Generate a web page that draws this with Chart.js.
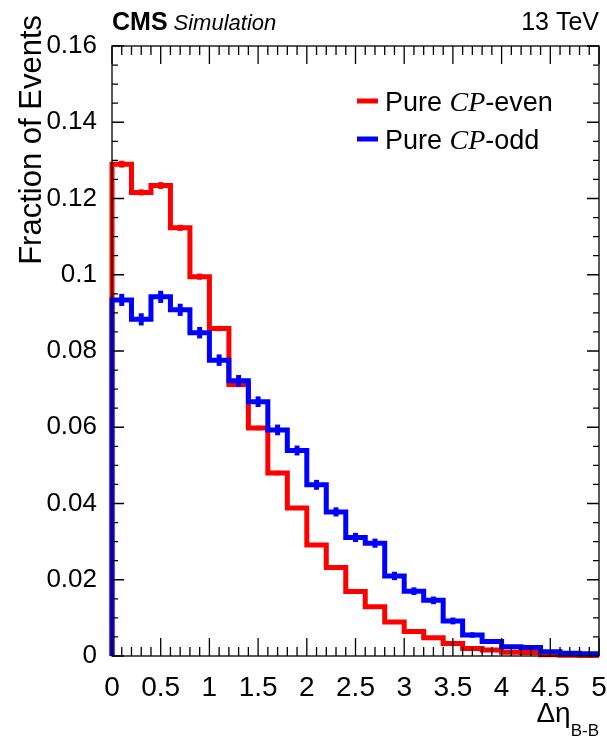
<!DOCTYPE html>
<html>
<head>
<meta charset="utf-8">
<script src="https://cdn.jsdelivr.net/npm/chart.js@4/dist/chart.umd.min.js"></script>
<style>
  html, body { margin: 0; padding: 0; background: #fff; }
  canvas { display: block; }
</style>
</head>
<body>
<canvas id="c" width="607" height="742"></canvas>
<script>
// Lower edges of the Δη bins (width 0.2), plus the upper end of the last bin
const binLow = [0.0, 0.2, 0.4, 0.6, 0.8, 1.0, 1.2, 1.4, 1.6, 1.8,
                2.0, 2.2, 2.4, 2.6, 2.8, 3.0, 3.2, 3.4, 3.6, 3.8,
                4.0, 4.2, 4.4, 4.6, 4.8];
const binEnd = 5.0;

// Fraction of events per bin, pure CP-even sample
const evenValues = [0.1290, 0.1216, 0.1234, 0.1123, 0.0995, 0.0859, 0.0712, 0.0598, 0.0480, 0.0388,
                    0.0291, 0.0232, 0.0169, 0.0129, 0.0089, 0.0064, 0.0048, 0.0033, 0.0020, 0.0016,
                    0.0010, 0.0009, 0.0003, 0.0002, 0.0001];
const evenErrors = [0.0009, 0.0008, 0.0009, 0.0008, 0.0008, 0.0007, 0.0007, 0.0006, 0.0006, 0.0005,
                    0.0005, 0.0004, 0.0004, 0.0003, 0.0003, 0.0003, 0.0002, 0.0002, 0.0002, 0.0001,
                    0.0001, 0.0001, 0.0001, 0.0001, 0.0001];

// Fraction of events per bin, pure CP-odd sample
const oddValues = [0.0934, 0.0883, 0.0942, 0.0908, 0.0848, 0.0776, 0.0722, 0.0667, 0.0593, 0.0539,
                   0.0449, 0.0378, 0.0311, 0.0296, 0.0210, 0.0170, 0.0146, 0.0092, 0.0055, 0.0038,
                   0.0024, 0.0022, 0.0011, 0.0007, 0.0006];
const oddErrors = [0.0016, 0.0016, 0.0016, 0.0016, 0.0015, 0.0015, 0.0015, 0.0014, 0.0014, 0.0013,
                   0.0013, 0.0012, 0.0012, 0.0012, 0.0011, 0.0010, 0.0010, 0.0009, 0.0007, 0.0006,
                   0.0005, 0.0005, 0.0004, 0.0003, 0.0003];

// Axis labels
const xTickValues = [0, 0.5, 1, 1.5, 2, 2.5, 3, 3.5, 4, 4.5, 5];
const yTickValues = [0, 0.02, 0.04, 0.06, 0.08, 0.1, 0.12, 0.14, 0.16];

const SANS = "'Liberation Sans', Arial, Helvetica, sans-serif";
const SERIF = "'Liberation Serif', 'Times New Roman', serif";

// Outline of a histogram as step points: rises from zero at the first edge
function stepPoints(values) {
  const pts = [{ x: binLow[0], y: 0 }];
  values.forEach((v, i) => pts.push({ x: binLow[i], y: v }));
  pts.push({ x: binEnd, y: values[values.length - 1] });
  return pts;
}

const errorsByLabel = {
  'Pure CP-odd': { values: oddValues, errors: oddErrors },
  'Pure CP-even': { values: evenValues, errors: evenErrors }
};

// Vertical statistical error bars at bin centres, drawn together with their histogram
const errorBars = {
  id: 'errorBars',
  afterDatasetDraw(chart, args) {
    const ds = chart.data.datasets[args.index];
    const info = errorsByLabel[ds.label];
    if (!info) return;
    const xs = chart.scales.x, ys = chart.scales.y, ctx = chart.ctx;
    ctx.save();
    ctx.strokeStyle = ds.borderColor;
    ctx.lineWidth = 5;
    ctx.lineCap = 'butt';
    info.values.forEach((v, i) => {
      const hi = (i + 1 < binLow.length) ? binLow[i + 1] : binEnd;
      const cx = xs.getPixelForValue((binLow[i] + hi) / 2);
      ctx.beginPath();
      ctx.moveTo(cx, ys.getPixelForValue(Math.max(0, v - info.errors[i])));
      ctx.lineTo(cx, ys.getPixelForValue(v + info.errors[i]));
      ctx.stroke();
    });
    ctx.restore();
  }
};

// Frame with inward ticks on all four sides
const frame = {
  id: 'frame',
  afterDatasetsDraw(chart) {
    const { ctx, chartArea: a, scales: { x, y } } = chart;
    ctx.save();
    ctx.strokeStyle = '#000';
    ctx.lineWidth = 1.3;
    ctx.strokeRect(a.left, a.top, a.right - a.left, a.bottom - a.top);
    ctx.beginPath();
    for (let k = 0; k <= 50; k++) {
      const px = x.getPixelForValue(k / 10);
      const len = (k % 5 === 0) ? 18 : 9;
      ctx.moveTo(px, a.bottom); ctx.lineTo(px, a.bottom - len);
      ctx.moveTo(px, a.top); ctx.lineTo(px, a.top + len);
    }
    for (let k = 0; k <= 32; k++) {
      const py = y.getPixelForValue(k * 0.005);
      const len = (k % 4 === 0) ? 12 : 6;
      ctx.moveTo(a.left, py); ctx.lineTo(a.left + len, py);
      ctx.moveTo(a.right, py); ctx.lineTo(a.right - len, py);
    }
    ctx.stroke();
    ctx.restore();
  }
};

// Header, axis titles and legend
const annotations = {
  id: 'annotations',
  afterDraw(chart) {
    const { ctx, chartArea: a } = chart;
    ctx.save();
    ctx.fillStyle = '#000';
    ctx.textBaseline = 'alphabetic';

    // header
    ctx.textAlign = 'left';
    ctx.font = `bold 25px ${SANS}`;
    ctx.fillText('CMS', a.left, 30);
    const cmsW = ctx.measureText('CMS').width;
    ctx.font = `italic 22px ${SANS}`;
    ctx.fillText('Simulation', a.left + cmsW + 6, 30);
    ctx.textAlign = 'right';
    ctx.font = `25px ${SANS}`;
    ctx.fillText('13 TeV', a.right, 30);

    // y-axis title
    ctx.save();
    ctx.translate(41, 15);
    ctx.rotate(-Math.PI / 2);
    ctx.textAlign = 'right';
    ctx.font = `31px ${SANS}`;
    ctx.fillText('Fraction of Events', 0, 0);
    ctx.restore();

    // x-axis title: Δη with subscript B-B
    ctx.textAlign = 'left';
    ctx.font = `17px ${SANS}`;
    const subW = ctx.measureText('B-B').width;
    ctx.font = `28px ${SANS}`;
    const mainW = ctx.measureText('Δη').width;
    const x0 = a.right - subW - mainW;
    ctx.fillText('Δη', x0, 722);
    ctx.font = `17px ${SANS}`;
    ctx.fillText('B-B', x0 + mainW, 736);

    // legend
    const entries = [
      { color: '#ff0000', tail: '-even', y: 101 },
      { color: '#0000ff', tail: '-odd', y: 139 }
    ];
    entries.forEach(e => {
      ctx.strokeStyle = e.color;
      ctx.lineWidth = 5;
      ctx.beginPath();
      ctx.moveTo(357, e.y); ctx.lineTo(378, e.y);
      ctx.stroke();
      let tx = 385;
      const base = e.y + 10;
      ctx.font = `27px ${SANS}`;
      ctx.fillText('Pure ', tx, base);
      tx += ctx.measureText('Pure ').width;
      ctx.font = `italic 28px ${SERIF}`;
      ctx.fillText('CP', tx, base);
      tx += ctx.measureText('CP').width;
      ctx.font = `27px ${SANS}`;
      ctx.fillText(e.tail, tx, base);
    });
    ctx.restore();
  }
};

const fmt = v => String(+(+v).toFixed(2));

new Chart(document.getElementById('c').getContext('2d'), {
  type: 'line',
  data: {
    datasets: [
      { label: 'Pure CP-odd', data: stepPoints(oddValues), borderColor: '#0000ff', borderWidth: 5,
        stepped: 'before', pointRadius: 0, fill: false, clip: false,
        borderJoinStyle: 'miter', borderCapStyle: 'butt' },
      { label: 'Pure CP-even', data: stepPoints(evenValues), borderColor: '#ff0000', borderWidth: 5,
        stepped: 'before', pointRadius: 0, fill: false, clip: false,
        borderJoinStyle: 'miter', borderCapStyle: 'butt' }
    ]
  },
  options: {
    responsive: false,
    animation: false,
    devicePixelRatio: 1,
    layout: { padding: { top: 46, right: 8, left: 0, bottom: 0 } },
    plugins: { legend: { display: false }, tooltip: { enabled: false } },
    scales: {
      x: {
        type: 'linear', min: 0, max: 5,
        grid: { display: false, drawTicks: false }, border: { display: false },
        afterBuildTicks: s => { s.ticks = xTickValues.map(v => ({ value: v })); },
        ticks: { color: '#000', font: { family: SANS, size: 28 }, padding: 15,
                 maxRotation: 0, autoSkip: false, callback: fmt },
        afterFit: s => { s.height = 86; s.paddingLeft = 0; s.paddingRight = 0; }
      },
      y: {
        type: 'linear', min: 0, max: 0.16,
        grid: { display: false, drawTicks: false }, border: { display: false },
        afterBuildTicks: s => { s.ticks = yTickValues.map(v => ({ value: v })); },
        ticks: { color: '#000', font: { family: SANS, size: 26 }, padding: 15,
                 autoSkip: false, callback: fmt },
        afterFit: s => { s.width = 112; s.paddingTop = 0; s.paddingBottom = 0; }
      }
    }
  },
  plugins: [errorBars, frame, annotations]
});
</script>
</body>
</html>
